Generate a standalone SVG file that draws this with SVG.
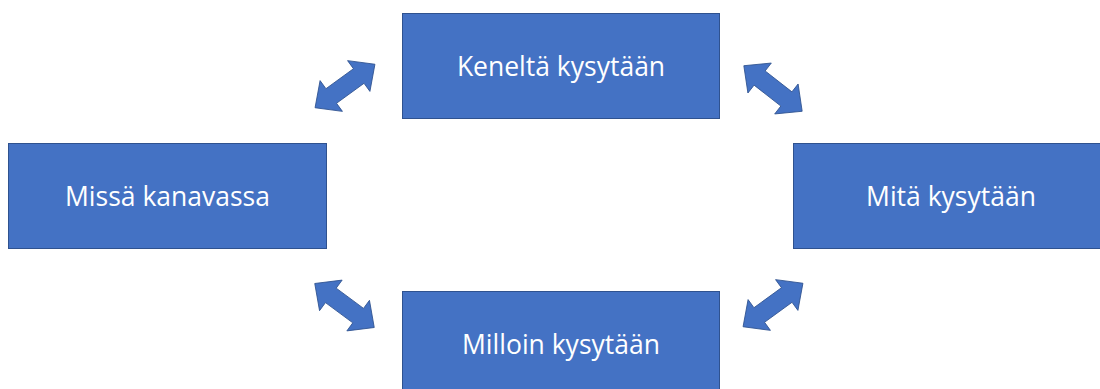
<svg xmlns="http://www.w3.org/2000/svg" width="1100" height="389" viewBox="0 0 1100 389">
  <defs>
    <style>
      .box { fill: #4472C4; stroke: #2F528F; stroke-width: 1; }
      .lbl { fill: #FFFFFF; font-family: "Open Sans", "Liberation Sans", sans-serif; font-size: 26.5px; text-anchor: middle; dominant-baseline: central; }
      .arr { fill: #4472C4; stroke: #2F528F; stroke-width: 0.8; }
    </style>
    <!-- double-headed block arrow, centred on the origin, pointing along x -->
    <path id="dbl" class="arr" d="M -37,0 L -17,-19 L -17,-9 L 17,-9 L 17,-19 L 37,0 L 17,19 L 17,9 L -17,9 L -17,19 Z"/>
  </defs>
  <rect width="1100" height="389" fill="#FFFFFF"/>

  <g id="node-keneltä">
    <rect class="box" x="402.5" y="13.5" width="317" height="105"/>
    <text class="lbl" x="561" y="66">Keneltä kysytään</text>
  </g>
  <g id="node-missä">
    <rect class="box" x="8.5" y="143.5" width="318" height="105"/>
    <text class="lbl" x="167.5" y="196">Missä kanavassa</text>
  </g>
  <g id="node-mitä">
    <rect class="box" x="793.5" y="143.5" width="318" height="105"/>
    <text class="lbl" x="951" y="196">Mitä kysytään</text>
  </g>
  <g id="node-milloin">
    <rect class="box" x="402.5" y="291.5" width="317" height="105"/>
    <text class="lbl" x="561" y="344">Milloin kysytään</text>
  </g>

  <g id="connectors">
    <use href="#dbl" transform="translate(345,86) rotate(-36)"/>
    <use href="#dbl" transform="translate(773,88.5) rotate(38)"/>
    <use href="#dbl" transform="translate(344.5,305.5) rotate(36.5)"/>
    <use href="#dbl" transform="translate(773,305) rotate(-36)"/>
  </g>
</svg>
